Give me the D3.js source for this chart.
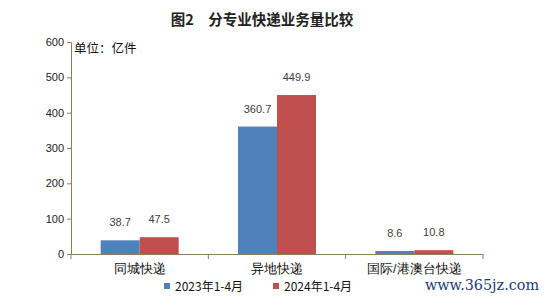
<!DOCTYPE html>
<html lang="zh">
<head>
<meta charset="UTF-8">
<title>分专业快递业务量比较</title>
<script src="https://d3js.org/d3.v7.min.js"></script>
<style>
  body { margin: 0; background: #fff; }
  svg { display: block; font-family: "Noto Sans CJK SC", "Noto Sans", sans-serif; }
</style>
</head>
<body>
<svg width="548" height="299"></svg>
<script>
const categories = ["同城快递", "异地快递", "国际/港澳台快递"];
const seriesNames = ["2023年1-4月", "2024年1-4月"];
const values2023 = [38.7, 360.7, 8.6];
const values2024 = [47.5, 449.9, 10.8];
const yTicks = [0, 100, 200, 300, 400, 500, 600];
const colors = ["#4f81bd", "#c0504d"];

const svg = d3.select("svg");
const margin = { left: 71, right: 65, top: 42, bottom: 45 };
const plotW = 548 - margin.left - margin.right;   // ~412
const plotBottom = 254;

const x = d3.scaleBand().domain(categories).range([margin.left, margin.left + plotW]);
const xs = d3.scaleBand().domain(seriesNames).range([0, 78]);
const y = d3.scaleLinear().domain([0, 600]).range([plotBottom, margin.top]);

// title
svg.append("text")
   .attr("x", 262).attr("y", 25)
   .attr("text-anchor", "middle")
   .attr("font-size", 14.5).attr("font-weight", "bold").attr("fill", "#222")
   .text("图2　分专业快递业务量比较");

// y axis
const yAxis = svg.append("g")
   .attr("transform", `translate(${margin.left},0)`)
   .call(d3.axisLeft(y).tickValues(yTicks).tickSize(4).tickPadding(3));
yAxis.select(".domain").attr("stroke", "#8c7e5a");
yAxis.selectAll(".tick line").attr("stroke", "#8c7e5a");
yAxis.selectAll(".tick text").attr("font-size", 11).attr("fill", "#222")
     .attr("font-family", "Liberation Sans, Arial, sans-serif");

// x axis
const xAxis = svg.append("g")
   .attr("transform", `translate(0,${plotBottom})`)
   .call(d3.axisBottom(x).tickSize(0).tickPadding(10));
xAxis.select(".domain").attr("stroke", "#8c7e5a");
xAxis.selectAll(".tick text").attr("font-size", 12.5).attr("fill", "#111");
// boundary ticks between categories
const bounds = categories.map(c => x(c)).concat([x(categories[2]) + x.bandwidth()]);
svg.selectAll(".xtick").data(bounds).enter().append("line")
   .attr("x1", d => d).attr("x2", d => d)
   .attr("y1", plotBottom).attr("y2", plotBottom + 5)
   .attr("stroke", "#8c7e5a");

// unit label
svg.append("text")
   .attr("x", 74).attr("y", 53)
   .attr("font-size", 12.5).attr("fill", "#111")
   .text("单位：亿件");

// bars
const rows = categories.map((c, i) => ({ cat: c, vals: [values2023[i], values2024[i]] }));
const groups = svg.selectAll(".grp").data(rows).enter().append("g")
   .attr("transform", d => `translate(${x(d.cat) + x.bandwidth() / 2 - 39},0)`);

groups.selectAll("rect").data(d => d.vals.map((v, j) => ({ v, s: seriesNames[j], j })))
   .enter().append("rect")
   .attr("x", d => xs(d.s))
   .attr("width", xs.bandwidth())
   .attr("y", d => y(d.v))
   .attr("height", d => plotBottom - y(d.v))
   .attr("fill", d => colors[d.j]);

groups.selectAll(".lbl").data(d => d.vals.map((v, j) => ({ v, s: seriesNames[j] })))
   .enter().append("text")
   .attr("x", d => xs(d.s) + xs.bandwidth() / 2)
   .attr("y", d => y(d.v) - 14)
   .attr("text-anchor", "middle")
   .attr("font-size", 11).attr("fill", "#404040")
   .attr("font-family", "Liberation Sans, Arial, sans-serif")
   .text(d => d.v.toFixed(1));

// legend
const legendX = [164, 273];
seriesNames.forEach((s, i) => {
  svg.append("rect")
     .attr("x", legendX[i]).attr("y", 283)
     .attr("width", 6).attr("height", 6)
     .attr("fill", colors[i]);
  svg.append("text")
     .attr("x", legendX[i] + 11).attr("y", 290.5)
     .attr("font-size", 12).attr("fill", "#111")
     .text(s);
});

// watermark
svg.append("text")
   .attr("x", 425).attr("y", 290)
   .attr("font-size", 15).attr("fill", "#1f3a78")
   .attr("font-family", "DejaVu Serif, serif")
   .attr("textLength", 114).attr("lengthAdjust", "spacingAndGlyphs")
   .text("www.365jz.com");
</script>
</body>
</html>
